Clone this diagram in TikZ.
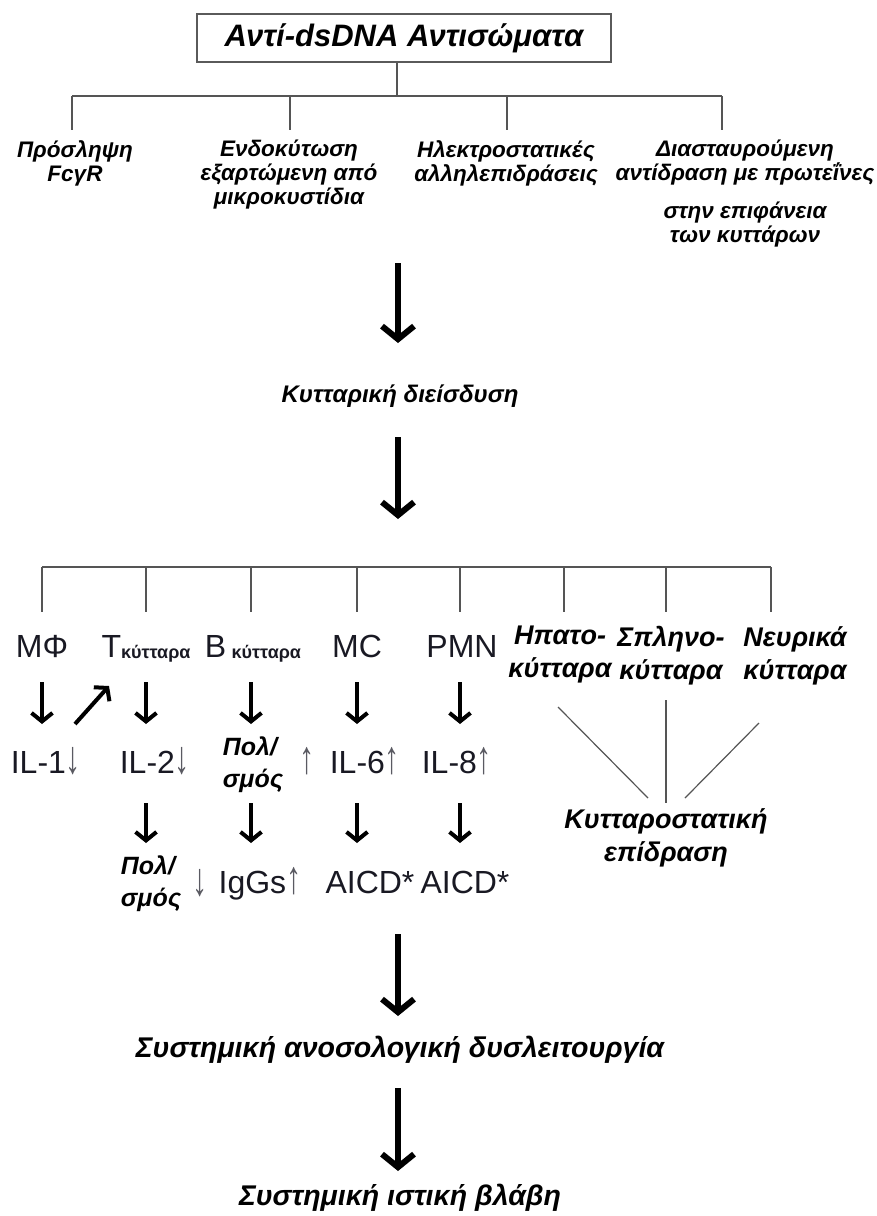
\documentclass[tikz,border=0pt]{standalone}
\usepackage{fontspec}
\setmainfont{Liberation Sans}
\usetikzlibrary{arrows.meta}
\definecolor{linegray}{RGB}{85,85,85}
\definecolor{boxgray}{RGB}{90,90,90}
\definecolor{textdark}{RGB}{25,25,35}
\definecolor{arrgray}{RGB}{90,90,98}
\newcommand\kyt{\fontsize{18}{20}\selectfont\bfseries}
\newcommand\garr[1]{\textcolor{arrgray}{\scalebox{0.95}[1.45]{#1}}}
\begin{document}
\begin{tikzpicture}[x=1pt,y=-1pt,
  line/.style={draw=linegray, line width=1.5pt},
  topbox/.style={draw=boxgray, line width=2pt, minimum width=414pt, minimum height=48pt, inner sep=0pt, font=\fontsize{31}{34}\selectfont\bfseries\itshape},
  lvl/.style={inner sep=0pt, align=center, font=\fontsize{22.5}{24}\selectfont\bfseries\itshape},
  midtxt/.style={inner sep=0pt, font=\fontsize{24}{26}\selectfont\bfseries\itshape},
  bigtxt/.style={inner sep=0pt, font=\fontsize{28.5}{30}\selectfont\bfseries\itshape},
  cell/.style={inner sep=0pt, text=textdark, font=\fontsize{32}{36}\selectfont},
  organ/.style={inner sep=0pt, align=center, font=\fontsize{27}{33}\selectfont\bfseries\itshape},
  pol/.style={inner sep=0pt, align=left, font=\fontsize{25}{32}\selectfont\bfseries\itshape},
  bigarrow/.style={draw=black, line width=6pt, -{Straight Barb[length=13pt,width=32pt,line width=6pt]}},
  smallarrow/.style={draw=black, line width=4pt, -{Straight Barb[length=8.5pt,width=21pt,line width=4pt]}}
]
\useasboundingbox (0,0) rectangle (877,1216);

% ---------- top ----------
\node[topbox] (top) at (404,38) {Αντί-dsDNA Αντισώματα};
\coordinate (b1) at (397,96);
\coordinate (b1L) at (72,96);
\coordinate (b1R) at (722,96);
\coordinate (b1b) at (290,96);
\coordinate (b1c) at (507,96);
\draw[line] (top.south -| b1) -- (b1);
\draw[line] (b1L) -- (b1R);

\node[lvl, anchor=north] (l1a) at (75,140) {Πρόσληψη\\FcγR};
\node[lvl, anchor=north] (l1b) at (289,140) {Ενδοκύτωση\\εξαρτώμενη από\\μικροκυστίδια};
\node[lvl, anchor=north] (l1c) at (506,140) {Ηλεκτροστατικές\\αλληλεπιδράσεις};
\node[lvl, anchor=north] (l1d) at (745,140) {Διασταυρούμενη\\αντίδραση με πρωτεΐνες\\[14pt]στην επιφάνεια\\των κυττάρων};

\draw[line] (b1L) -- (b1L |- 0,130);
\draw[line] (b1b) -- (b1b |- 0,130);
\draw[line] (b1c) -- (b1c |- 0,130);
\draw[line] (b1R) -- (b1R |- 0,130);

% ---------- middle ----------
\coordinate (a1s) at (398,263);
\node[midtxt] (infl) at (400,396) {Κυτταρική διείσδυση};
\coordinate (a1e) at (398,343);
\draw[bigarrow] (a1s) -- (a1e);
\coordinate (a2s) at (398,437);
\coordinate (a2e) at (398,519);
\draw[bigarrow] (a2s) -- (a2e);

% ---------- cell bar ----------
\coordinate (c1) at (42,567);
\coordinate (c2) at (146,567);
\coordinate (c3) at (251,567);
\coordinate (c4) at (357,567);
\coordinate (c5) at (460,567);
\coordinate (c6) at (564,567);
\coordinate (c7) at (666,567);
\coordinate (c8) at (771,567);
\draw[line] (c1) -- (c8);
\foreach \c in {c1,c2,c3,c4,c5,c6,c7,c8} \draw[line] (\c) -- ++(0,45);

\node[cell, anchor=base] (mf) at (42,657) {ΜΦ};
\node[cell, anchor=base] (tc) at (146,657) {Τ\raisebox{-1pt}{\kyt κύτταρα}};
\node[cell, anchor=base] (bc) at (253,657) {Β\,\raisebox{-1pt}{\kyt κύτταρα}};
\node[cell, anchor=base] (mc) at (357,657) {MC};
\node[cell, anchor=base] (pmn) at (462,657) {PMN};

\node[organ, anchor=north] (hep) at (560,626) {Ηπατο-\\κύτταρα};
\node[organ, anchor=north] (spl) at (671,626) {Σπληνο-\\κύτταρα};
\node[organ, anchor=north] (neu) at (795,626) {Νευρικά\\κύτταρα};

% ---------- cytokines ----------
\node[cell, anchor=base] (il1) at (46,773) {IL-1\garr{↓}};
\node[cell, anchor=base] (il2) at (155,773) {IL-2\garr{↓}};
\node[pol, anchor=north] (pol1) at (253,737) {Πολ/\\σμός};
\node[cell, anchor=base] (up1) at (307,773) {\garr{↑}};
\node[cell, anchor=base] (il6) at (365,773) {IL-6\garr{↑}};
\node[cell, anchor=base] (il8) at (457,773) {IL-8\garr{↑}};

\draw[smallarrow] (mf |- 0,682) -- (mf |- 0,724);
\draw[smallarrow] (c2 |- 0,682) -- (c2 |- 0,724);
\draw[smallarrow] (c3 |- 0,682) -- (c3 |- 0,724);
\draw[smallarrow] (c4 |- 0,682) -- (c4 |- 0,724);
\draw[smallarrow] (c5 |- 0,682) -- (c5 |- 0,724);
\coordinate (dgs) at (75,724);
\coordinate (dge) at (109,686);
\draw[smallarrow] (dgs) -- (dge);

% ---------- right side ----------
\node[organ, anchor=north] (cyto) at (666,808) {Κυτταροστατική\\επίδραση};
\coordinate (h1) at (558,707);
\coordinate (h2) at (648,798);
\coordinate (s1) at (666,700);
\coordinate (s2) at (666,803);
\coordinate (n1) at (759,723);
\coordinate (n2) at (685,798);
\draw[line, line width=1.2pt] (h1) -- (h2);
\draw[line, line width=1.2pt] (s1) -- (s2);
\draw[line, line width=1.2pt] (n1) -- (n2);

% ---------- row 3 ----------
\draw[smallarrow] (c2 |- 0,803) -- (c2 |- 0,843);
\draw[smallarrow] (c3 |- 0,803) -- (c3 |- 0,843);
\draw[smallarrow] (c4 |- 0,803) -- (c4 |- 0,843);
\draw[smallarrow] (c5 |- 0,803) -- (c5 |- 0,843);

\node[pol, anchor=north] (pol2) at (151,856) {Πολ/\\σμός};
\node[cell, anchor=base] (dn2) at (200,895) {\garr{↓}};
\node[cell, anchor=base] (igg) at (260,893) {IgGs\garr{↑}};
\node[cell, anchor=base] (aicd1) at (370,893) {AICD*};
\node[cell, anchor=base] (aicd2) at (465,893) {AICD*};

% ---------- bottom ----------
\coordinate (a3s) at (398,934);
\coordinate (a3e) at (398,1016);
\draw[bigarrow] (a3s) -- (a3e);
\node[bigtxt] (sys) at (400,1050) {Συστημική ανοσολογική δυσλειτουργία};
\coordinate (a4s) at (398,1088);
\coordinate (a4e) at (398,1171);
\draw[bigarrow] (a4s) -- (a4e);
\node[bigtxt] (tis) at (400,1198) {Συστημική ιστική βλάβη};
\end{tikzpicture}
\end{document}
